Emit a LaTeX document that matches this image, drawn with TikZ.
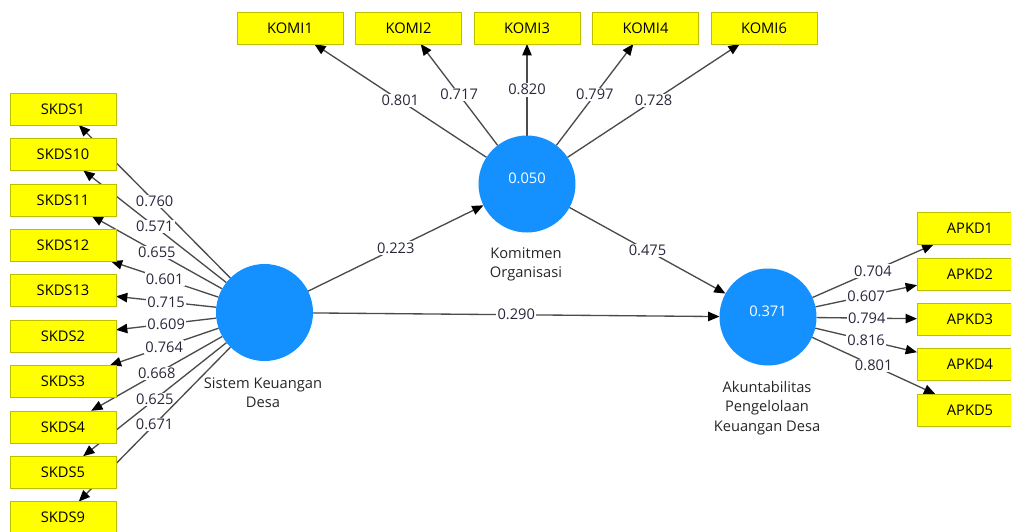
\documentclass[tikz,border=0pt]{standalone}
\usepackage{fontspec}
\setmainfont{Open Sans}
\usetikzlibrary{shapes}
\usetikzlibrary{arrows.meta}
\usetikzlibrary{backgrounds}
\definecolor{lvblue}{RGB}{20,145,255}
\definecolor{indfill}{RGB}{255,255,0}
\definecolor{indline}{RGB}{190,190,0}
\definecolor{lnkgray}{RGB}{75,75,75}
\definecolor{coeftext}{RGB}{40,40,60}

\begin{document}
\begin{tikzpicture}[x=0.75pt,y=-0.75pt]
				\tikzstyle{every node}=[font=\fontsize{11}{14.5}\selectfont]
				\tikzstyle{ind}=[rectangle,draw=indline,fill=indfill,minimum width=79.5pt,minimum height=24pt,inner sep=0pt,outer sep=0pt]
				\tikzstyle{lv}=[circle,fill=lvblue,minimum size=72.75pt,inner sep=0pt,outer sep=0pt]
				\tikzstyle{lvname}=[align=center,text=black!85]
				\tikzstyle{coef}=[fill=white,inner sep=1pt,text=coeftext]
				\tikzstyle{lnk}=[draw=lnkgray,line width=1pt,-{Triangle[length=8.5pt,width=7pt,color=black]}]
				\useasboundingbox (0,0) rectangle (1011,532);
				% latent variables
				\node[lv] (skds) at (264.5,312.5) {};
				\node[lv,label={[text=white,yshift=4.5pt]center:0.050}] (komi) at (527,184) {};
				\node[lv,label={[text=white,yshift=4pt]center:0.371}] (apkd) at (768,317) {};
				\node[lvname] (skdsname) at (263,392.5) {Sistem Keuangan\\Desa};
				\node[lvname] (kominame) at (526,264.5) {Komitmen\\Organisasi};
				\node[lvname] (apkdname) at (767,408) {Akuntabilitas\\Pengelolaan\\Keuangan Desa};
				% indicators
				\node[ind] (skds1) at (63,109) {SKDS1};
				\node[ind] (skds10) at (63,154.4) {SKDS10};
				\node[ind] (skds11) at (63,199.8) {SKDS11};
				\node[ind] (skds12) at (63,245.2) {SKDS12};
				\node[ind] (skds13) at (63,290.6) {SKDS13};
				\node[ind] (skds2) at (63,336) {SKDS2};
				\node[ind] (skds3) at (63,381.4) {SKDS3};
				\node[ind] (skds4) at (63,426.8) {SKDS4};
				\node[ind] (skds5) at (63,472.2) {SKDS5};
				\node[ind] (skds9) at (63,517.6) {SKDS9};
				\node[ind] (komi1) at (290,28) {KOMI1};
				\node[ind] (komi2) at (408.5,28) {KOMI2};
				\node[ind] (komi3) at (527,28) {KOMI3};
				\node[ind] (komi4) at (645.5,28) {KOMI4};
				\node[ind] (komi6) at (764,28) {KOMI6};
				\node[ind] (apkd1) at (970,228.5) {APKD1};
				\node[ind] (apkd2) at (970,273.9) {APKD2};
				\node[ind] (apkd3) at (970,319.3) {APKD3};
				\node[ind] (apkd4) at (970,364.7) {APKD4};
				\node[ind] (apkd5) at (970,410.1) {APKD5};
				% paths and loadings
				\begin{scope}[on background layer]
				\draw[lnk] (skds) -- node[coef] {0.223} (komi);
				\draw[lnk] (komi) -- node[coef] {0.475} (apkd);
				\draw[lnk] (skds) -- node[coef] {0.290} (apkd);
				\draw[lnk] (skds) -- node[coef] {0.760} (skds1);
				\draw[lnk] (skds) -- node[coef] {0.571} (skds10);
				\draw[lnk] (skds) -- node[coef] {0.655} (skds11);
				\draw[lnk] (skds) -- node[coef] {0.601} (skds12);
				\draw[lnk] (skds) -- node[coef] {0.715} (skds13);
				\draw[lnk] (skds) -- node[coef] {0.609} (skds2);
				\draw[lnk] (skds) -- node[coef] {0.764} (skds3);
				\draw[lnk] (skds) -- node[coef] {0.668} (skds4);
				\draw[lnk] (skds) -- node[coef] {0.625} (skds5);
				\draw[lnk] (skds) -- node[coef] {0.671} (skds9);
				\draw[lnk] (komi) -- node[coef] {0.801} (komi1);
				\draw[lnk] (komi) -- node[coef] {0.717} (komi2);
				\draw[lnk] (komi) -- node[coef] {0.820} (komi3);
				\draw[lnk] (komi) -- node[coef] {0.797} (komi4);
				\draw[lnk] (komi) -- node[coef] {0.728} (komi6);
				\draw[lnk] (apkd) -- node[coef] {0.704} (apkd1);
				\draw[lnk] (apkd) -- node[coef] {0.607} (apkd2);
				\draw[lnk] (apkd) -- node[coef] {0.794} (apkd3);
				\draw[lnk] (apkd) -- node[coef] {0.816} (apkd4);
				\draw[lnk] (apkd) -- node[coef] {0.801} (apkd5);
				\end{scope}
\end{tikzpicture}
\end{document}
